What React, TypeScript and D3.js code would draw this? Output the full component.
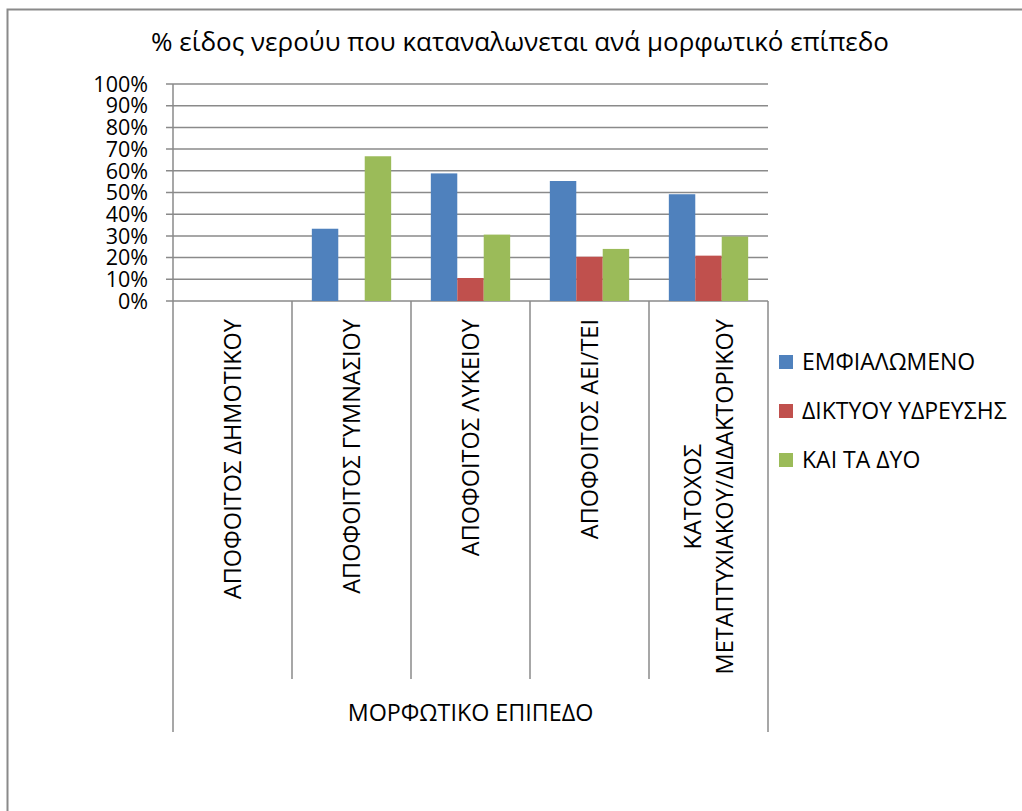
import { useEffect, useRef } from 'react';
import * as d3 from 'd3';

const W = 1022;
const H = 811;
const FONT = '"Open Sans", sans-serif';

const categories = [
  ['ΑΠΟΦΟΙΤΟΣ ΔΗΜΟΤΙΚΟΥ'],
  ['ΑΠΟΦΟΙΤΟΣ ΓΥΜΝΑΣΙΟΥ'],
  ['ΑΠΟΦΟΙΤΟΣ ΛΥΚΕΙΟΥ'],
  ['ΑΠΟΦΟΙΤΟΣ ΑΕΙ/ΤΕΙ'],
  ['ΚΑΤΟΧΟΣ', 'ΜΕΤΑΠΤΥΧΙΑΚΟΥ/ΔΙΔΑΚΤΟΡΙΚΟΥ'],
];
const seriesNames = ['ΕΜΦΙΑΛΩΜΕΝΟ', 'ΔΙΚΤΥΟΥ ΥΔΡΕΥΣΗΣ', 'ΚΑΙ ΤΑ ΔΥΟ'];
const seriesColors = ['#4F81BD', '#C0504D', '#9BBB59'];
const bottled = [0, 0.333, 0.588, 0.553, 0.492];
const network = [0, 0, 0.106, 0.204, 0.209];
const both = [0, 0.667, 0.306, 0.24, 0.297];
const yTicks = [0, 0.1, 0.2, 0.3, 0.4, 0.5, 0.6, 0.7, 0.8, 0.9, 1];
const title = '% είδος νερούυ που καταναλωνεται ανά μορφωτικό επίπεδο';
const groupLabel = 'ΜΟΡΦΩΤΙΚΟ ΕΠΙΠΕΔΟ';

export default function App() {
  const svgRef = useRef<SVGSVGElement>(null);

  useEffect(() => {
    const svg = d3.select(svgRef.current);
    svg.selectAll('*').remove();

    const left = 173;
    const right = 768;
    const top = 84;
    const bottom = 301;
    const gridColor = '#8a8a8a';

    // outer frame of the chart area
    svg.append('rect')
      .attr('x', 7.5).attr('y', 9.5)
      .attr('width', W + 20).attr('height', H + 20)
      .attr('fill', '#fff')
      .attr('stroke', '#8a8a8a').attr('stroke-width', 2);

    svg.append('text')
      .attr('x', 520).attr('y', 51)
      .attr('text-anchor', 'middle')
      .attr('font-family', FONT).attr('font-size', 26)
      .text(title);

    const labels = categories.map((c) => c.join(' '));
    const x = d3.scaleBand<string>().domain(labels).range([left, right]);
    const xInner = d3.scaleBand<string>()
      .domain(seriesNames)
      .range([0, x.bandwidth()])
      .paddingInner(0)
      .paddingOuter(0.75);
    const y = d3.scaleLinear().domain([0, 1]).range([bottom, top]);

    // gridlines + tick marks
    svg.append('g')
      .selectAll('line')
      .data(yTicks)
      .join('line')
      .attr('x1', left - 7).attr('x2', right)
      .attr('y1', (d) => y(d)).attr('y2', (d) => y(d))
      .attr('stroke', gridColor).attr('stroke-width', 1.5);

    svg.append('g')
      .selectAll('text')
      .data(yTicks)
      .join('text')
      .attr('x', 148).attr('y', (d) => y(d))
      .attr('dy', '0.36em')
      .attr('text-anchor', 'end')
      .attr('font-family', FONT).attr('font-size', 21.5)
      .text((d) => d3.format('.0%')(d));

    const seriesValues = [bottled, network, both];
    seriesValues.forEach((vals, si) => {
      svg.append('g')
        .selectAll('rect')
        .data(vals)
        .join('rect')
        .attr('x', (_, i) => (x(labels[i]) ?? 0) + (xInner(seriesNames[si]) ?? 0))
        .attr('width', xInner.bandwidth())
        .attr('y', (d) => y(d))
        .attr('height', (d) => bottom - y(d))
        .attr('fill', seriesColors[si]);
    });

    // y axis line
    svg.append('line')
      .attr('x1', left).attr('x2', left)
      .attr('y1', top).attr('y2', bottom)
      .attr('stroke', gridColor).attr('stroke-width', 1.5);

    // category dividers
    const bounds = labels.map((l) => x(l) ?? 0).concat([right]);
    svg.append('g')
      .selectAll('line')
      .data(bounds)
      .join('line')
      .attr('x1', (d) => d).attr('x2', (d) => d)
      .attr('y1', bottom)
      .attr('y2', (_, i) => (i === 0 || i === bounds.length - 1 ? 732 : 679))
      .attr('stroke', gridColor).attr('stroke-width', 1.5);

    // rotated category labels, block centred on its longest line
    const labelTop = 319;
    const lineGap = 32;
    categories.forEach((lines, ci) => {
      const cx = (x(labels[ci]) ?? 0) + x.bandwidth() / 2;
      const g = svg.append('g');
      const texts = lines.map((line) =>
        g.append('text')
          .attr('dy', '0.36em')
          .attr('text-anchor', 'middle')
          .attr('font-family', FONT).attr('font-size', 23.5)
          .text(line)
      );
      const lens = texts.map((t) => (t.node() as SVGTextElement).getComputedTextLength());
      const maxLen = Math.max(...lens);
      texts.forEach((t, li) => {
        const lx = cx + (li - (lines.length - 1) / 2) * lineGap;
        t.attr('transform', `translate(${lx},${labelTop + maxLen / 2}) rotate(-90)`);
      });
    });

    svg.append('text')
      .attr('x', (left + right) / 2).attr('y', 713)
      .attr('dy', '0.36em')
      .attr('text-anchor', 'middle')
      .attr('font-family', FONT).attr('font-size', 23.3)
      .text(groupLabel);

    // legend
    const legend = svg.append('g');
    seriesNames.forEach((name, i) => {
      const ly = 362 + i * 49;
      legend.append('rect')
        .attr('x', 779).attr('y', ly - 7)
        .attr('width', 14).attr('height', 14)
        .attr('fill', seriesColors[i]);
      legend.append('text')
        .attr('x', 802).attr('y', ly)
        .attr('dy', '0.36em')
        .attr('font-family', FONT).attr('font-size', 23)
        .text(name);
    });
  }, []);

  return (
    <svg
      ref={svgRef}
      width={W}
      height={H}
      style={{ position: 'absolute', left: 0, top: 0, background: '#fff' }}
    />
  );
}
